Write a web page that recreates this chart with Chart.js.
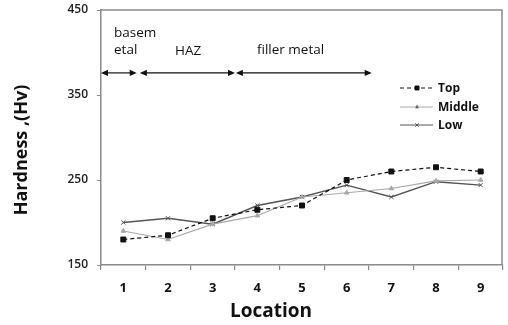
<!DOCTYPE html>
<html><head><meta charset="utf-8">
<script src="https://cdn.jsdelivr.net/npm/chart.js@4/dist/chart.umd.min.js"></script>
<style>html,body{margin:0;padding:0;background:#fff}#wrap{width:508px;height:325px}</style>
</head><body><div id="wrap"><canvas id="c" width="508" height="325"></canvas></div>
<script>
const categories = ['1','2','3','4','5','6','7','8','9'];
const topValues = [180,185,205,215,220,250,260,265,260];
const middleValues = [190,180,198,208,230,235,240,249,250];
const lowValues = [200,205,198,220,230,244,230,248,244];
const yTicks = [150,250,350,450];
const seriesNames = ['Top','Middle','Low'];
const regionLabels = [['basem','etal'],['HAZ'],['filler metal']];
const regionSpans = [[-0.5,0.3],[0.37,2.5],[2.52,5.56]];
const xTitle = 'Location';
const yTitle = 'Hardness ,(Hv)';

const FONT = '"Open Sans", "Noto Sans", sans-serif';

const overlay = {
  id:'overlay',
  afterDraw(chart){
    const {ctx, chartArea:a, scales:{x,y}} = chart;
    ctx.save();
    // frame top/right
    ctx.strokeStyle = '#8a8a8a'; ctx.lineWidth = 1.5;
    ctx.beginPath();
    ctx.moveTo(a.left, a.top); ctx.lineTo(a.right-1, a.top); ctx.lineTo(a.right-1, a.bottom);
    ctx.stroke();
    // axis titles
    ctx.fillStyle = '#111';
    ctx.font = 'bold 19px ' + FONT;
    ctx.textAlign = 'center'; ctx.textBaseline = 'middle';
    ctx.fillText(xTitle, 271, 312);
    ctx.save();
    ctx.translate(22, 150); ctx.rotate(-Math.PI/2);
    ctx.font = 'bold 18px ' + FONT;
    ctx.fillText(yTitle, 0, 0);
    ctx.restore();
    // region arrows
    const ay = y.getPixelForValue(376);
    ctx.strokeStyle = '#111'; ctx.fillStyle = '#111'; ctx.lineWidth = 1.2;
    regionSpans.forEach(([s,e])=>{
      const x1 = x.getPixelForValue(s), x2 = x.getPixelForValue(e);
      ctx.beginPath(); ctx.moveTo(x1+2, ay); ctx.lineTo(x2-2, ay); ctx.stroke();
      [[x1,1],[x2,-1]].forEach(([px,d])=>{
        ctx.beginPath(); ctx.moveTo(px, ay); ctx.lineTo(px+7*d, ay-3.2); ctx.lineTo(px+7*d, ay+3.2); ctx.closePath(); ctx.fill();
      });
    });
    // region labels
    ctx.font = '13.5px ' + FONT; ctx.textAlign = 'left'; ctx.textBaseline = 'middle';
    ctx.fillStyle = '#111';
    ctx.fillText(regionLabels[0][0], 114, 33);
    ctx.fillText(regionLabels[0][1], 114, 50);
    ctx.fillText(regionLabels[1][0], 175, 51);
    ctx.fillText(regionLabels[2][0], 257, 50);
    // legend
    const rows = [88,107,125];
    chart.data.datasets.forEach((ds,i)=>{
      const ly = rows[i];
      ctx.strokeStyle = ds.borderColor; ctx.lineWidth = 1;
      ctx.setLineDash(ds.borderDash || []);
      ctx.beginPath(); ctx.moveTo(400, ly); ctx.lineTo(433, ly); ctx.stroke();
      ctx.setLineDash([]);
      Chart.helpers.drawPoint(ctx, {pointStyle: ds.pointStyle, radius: ds.pointRadius*0.8, borderWidth: 1, rotation:0}, 417, ly);
      ctx.fillStyle = '#111';
      ctx.font = 'bold 12px ' + FONT;
      ctx.fillText(ds.label, 438, ly+1);
    });
    ctx.restore();
  }
};

new Chart(document.getElementById('c'), {
  type:'line',
  data:{
    labels: categories,
    datasets:[
      {label:seriesNames[0], data:topValues, borderColor:'#111', backgroundColor:'#111', borderWidth:1.2, borderDash:[4,3], pointStyle:'rect', pointRadius:3.5, pointBorderWidth:1, tension:0},
      {label:seriesNames[1], data:middleValues, borderColor:'#a8a8a8', backgroundColor:'#a8a8a8', borderWidth:1.2, pointStyle:'triangle', pointRadius:2.6, pointBorderWidth:1, tension:0},
      {label:seriesNames[2], data:lowValues, borderColor:'#555', backgroundColor:'#555', borderWidth:1.4, pointStyle:'crossRot', pointRadius:3, pointBorderWidth:1, tension:0}
    ]
  },
  options:{
    responsive:false, animation:false,
    layout:{padding:{top:10,right:1,left:0,bottom:0}},
    plugins:{legend:{display:false}, tooltip:{enabled:false}},
    scales:{
      x:{
        offset:true,
        grid:{offset:true, drawOnChartArea:false, drawTicks:true, tickLength:5, color:'#8a8a8a', lineWidth:1.2},
        border:{color:'#8a8a8a', width:1.5},
        ticks:{color:'#111', font:{family:FONT, size:13, weight:'bold'}, padding:10, maxRotation:0},
        afterFit(s){ s.height = 60; s.paddingLeft = 0; s.paddingRight = 0; }
      },
      y:{
        min:150, max:450,
        afterBuildTicks(s){ s.ticks = yTicks.map(v=>({value:v})); },
        grid:{drawOnChartArea:false, drawTicks:true, tickLength:4, color:'#8a8a8a'},
        border:{color:'#8a8a8a', width:1.5},
        ticks:{color:'#222', font:{family:FONT, size:12, weight:'600'}, padding:9},
        afterFit(s){ s.width = 101; s.paddingTop = 0; s.paddingBottom = 0; }
      }
    }
  },
  plugins:[overlay]
});
</script></body></html>
